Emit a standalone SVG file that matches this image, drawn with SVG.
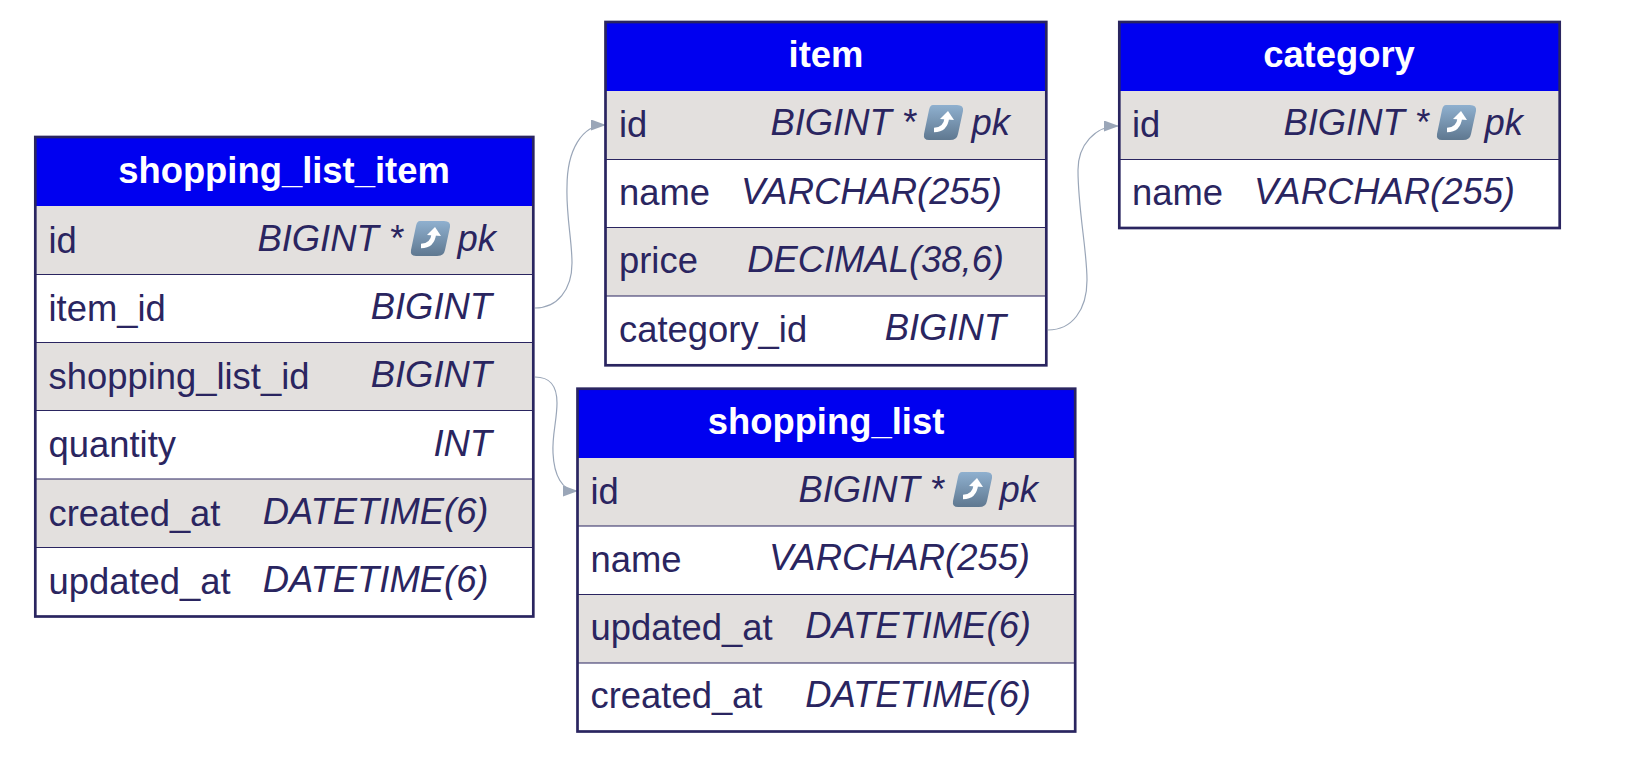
<svg xmlns="http://www.w3.org/2000/svg" width="1640" height="776" viewBox="0 0 1640 776">
<style>
text{font-family:"Liberation Sans",Arial,sans-serif;fill:#2a2560}
.h{font-size:36.4px;font-weight:700;fill:#fff;text-anchor:middle}
.n{font-size:36.4px}
.t{font-size:36.4px;font-style:italic;text-anchor:end}
.hd{fill:#0000f0}
.o{fill:#e3e0de}
.e{fill:#fff}
.l{stroke:#2a2560;stroke-width:1.2;fill:none}
.b{stroke:#2a2560;stroke-width:2.7;fill:none}
.c{fill:none;stroke:#9aa6b8;stroke-width:1.2}
</style>
<defs>
<marker id="a" markerUnits="userSpaceOnUse" markerWidth="15" markerHeight="11" refX="14" refY="5.500" orient="auto"><path d="M0 0L15 5.500L0 11Z" fill="#9aa6b8"/></marker>
<linearGradient id="g" x1="0" y1="0" x2="0" y2="1"><stop offset="0" stop-color="#8fb0cf"/><stop offset="1" stop-color="#5f7890"/></linearGradient>
<g id="pk"><path d="M7 0H31Q38 0 37 6L32 29Q31 35 24 35H3Q-3 35 -2 29L3 5Q4 0 7 0Z" fill="url(#g)"/><path d="M8 25C15 25 20 22 21 12" fill="none" stroke="#fff" stroke-width="4.5"/><path d="M14 14L22 6L28 15Z" fill="#fff"/></g>
</defs>
<g id="connectors">
<path class="c" marker-end="url(#a)" d="M535 308C557 308 572 290 572 263C572 240 566 215 567 187C567 150 582 125 605 125"/>
<path class="c" marker-end="url(#a)" d="M1048 330C1072 330 1087 310 1087 280C1087 250 1078 210 1078 170C1078 145 1095 126 1118 126"/>
<path class="c" marker-end="url(#a)" d="M535 377C550 377 557 385 557 403C557 420 552 435 553 453C554 475 562 491 577 491"/>
</g>
<g id="shopping_list_item">
<rect class="hd" x="35.300" y="137" width="498" height="69"/><rect class="o" x="35.300" y="206" width="498" height="68"/><rect class="e" x="35.300" y="274" width="498" height="68"/><rect class="o" x="35.300" y="342" width="498" height="68"/><rect class="e" x="35.300" y="410" width="498" height="69"/><rect class="o" x="35.300" y="479" width="498" height="68"/><rect class="e" x="35.300" y="547" width="498" height="69"/>
<path class="l" d="M35 274.500H533M35 342.500H533M35 410.500H533M35 479H533M35 547.500H533"/>
<rect class="b" x="35.300" y="137" width="498" height="479.500"/>
<text class="h" x="284" y="183">shopping_list_item</text>
<text class="n" x="48.500" y="253">id</text><text class="t" x="403" y="251">BIGINT *</text><use href="#pk" x="413" y="221"/><text class="t" x="496" y="251">pk</text>
<text class="n" x="48.500" y="321">item_id</text><text class="t" x="492" y="319">BIGINT</text>
<text class="n" x="48.500" y="389">shopping_list_id</text><text class="t" x="492" y="387">BIGINT</text>
<text class="n" x="48.500" y="457">quantity</text><text class="t" x="492" y="456">INT</text>
<text class="n" x="48.500" y="526">created_at</text><text class="t" x="488.500" y="524">DATETIME(6)</text>
<text class="n" x="48.500" y="594">updated_at</text><text class="t" x="488.500" y="592">DATETIME(6)</text>
</g>
<g id="item">
<rect class="hd" x="605.500" y="22" width="440.800" height="69"/><rect class="o" x="605.500" y="91" width="440.800" height="68"/><rect class="e" x="605.500" y="159" width="440.800" height="68"/><rect class="o" x="605.500" y="227" width="440.800" height="69"/><rect class="e" x="605.500" y="296" width="440.800" height="69"/>
<path class="l" d="M606 159.500H1046M606 227.500H1046M606 296H1046"/>
<rect class="b" x="605.500" y="22" width="440.800" height="343.300"/>
<text class="h" x="826" y="67">item</text>
<text class="n" x="619" y="137">id</text><text class="t" x="916" y="135">BIGINT *</text><use href="#pk" x="926" y="105"/><text class="t" x="1010" y="135">pk</text>
<text class="n" x="619" y="205">name</text><text class="t" x="1002" y="204">VARCHAR(255)</text>
<text class="n" x="619" y="273">price</text><text class="t" x="1004" y="272">DECIMAL(38,6)</text>
<text class="n" x="619" y="342">category_id</text><text class="t" x="1006" y="340">BIGINT</text>
</g>
<g id="category">
<rect class="hd" x="1119.300" y="22" width="440.400" height="69"/><rect class="o" x="1119.300" y="91" width="440.400" height="68"/><rect class="e" x="1119.300" y="159" width="440.400" height="68"/>
<path class="l" d="M1119 159.500H1559"/>
<rect class="b" x="1119.300" y="22" width="440.400" height="206"/>
<text class="h" x="1339" y="67">category</text>
<text class="n" x="1132" y="137">id</text><text class="t" x="1429" y="135">BIGINT *</text><use href="#pk" x="1439" y="105"/><text class="t" x="1523" y="135">pk</text>
<text class="n" x="1132" y="205">name</text><text class="t" x="1515" y="204">VARCHAR(255)</text>
</g>
<g id="shopping_list">
<rect class="hd" x="577.500" y="388.700" width="497.700" height="69.300"/><rect class="o" x="577.500" y="458" width="497.700" height="68"/><rect class="e" x="577.500" y="526" width="497.700" height="68"/><rect class="o" x="577.500" y="594" width="497.700" height="69"/><rect class="e" x="577.500" y="663" width="497.700" height="68"/>
<path class="l" d="M578 526H1075M578 594.500H1075M578 663H1075"/>
<rect class="b" x="577.500" y="388.700" width="497.700" height="342.800"/>
<text class="h" x="826" y="434">shopping_list</text>
<text class="n" x="590.500" y="504">id</text><text class="t" x="944" y="502">BIGINT *</text><use href="#pk" x="955" y="472"/><text class="t" x="1038" y="502">pk</text>
<text class="n" x="590.500" y="572">name</text><text class="t" x="1030" y="570">VARCHAR(255)</text>
<text class="n" x="590.500" y="640">updated_at</text><text class="t" x="1031" y="638">DATETIME(6)</text>
<text class="n" x="590.500" y="708">created_at</text><text class="t" x="1031" y="707">DATETIME(6)</text>
</g>
</svg>
